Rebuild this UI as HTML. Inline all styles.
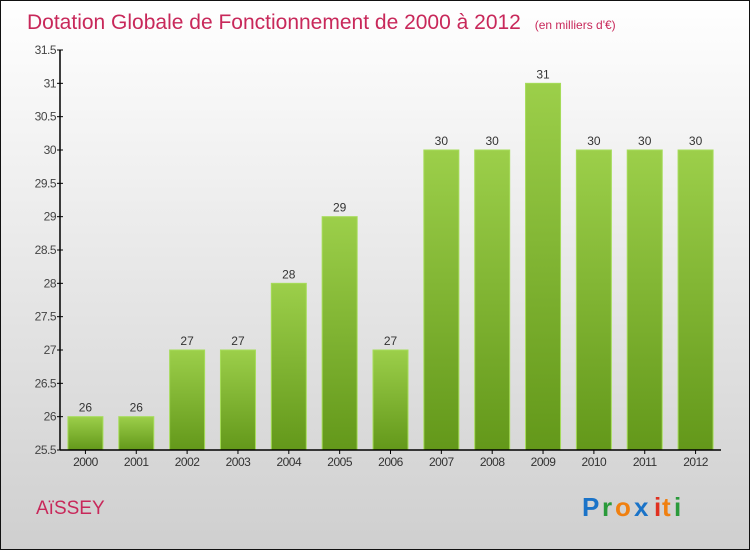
<!DOCTYPE html>
<html><head><meta charset="utf-8"><style>
body{margin:0;width:750px;height:550px;overflow:hidden;font-family:"Liberation Sans",sans-serif}
svg text{font-family:"Liberation Sans",sans-serif}
</style></head><body>
<svg width="750" height="550">
<defs>
<linearGradient id="bg" x1="0" y1="0" x2="0" y2="1"><stop offset="0" stop-color="#ffffff"/><stop offset="1" stop-color="#cfcfcf"/></linearGradient>
<linearGradient id="bar" x1="0" y1="0" x2="0" y2="1"><stop offset="0" stop-color="#9ccf4a"/><stop offset="1" stop-color="#63981a"/></linearGradient>
</defs>
<rect x="0.5" y="0.5" width="749" height="549" fill="url(#bg)" stroke="#111"/>
<text x="27" y="29" font-size="21" fill="#c8285a">Dotation Globale de Fonctionnement de 2000 à 2012 <tspan font-size="12" dx="8">(en milliers d'€)</tspan></text>
<g id="plot"></g>
<text x="36" y="514" font-size="19" fill="#c8285a">AïSSEY</text>
<g font-size="26" font-weight="bold">
<text x="582" y="516" fill="#1a73c8">P</text><text x="602" y="516" fill="#2a9a3a">r</text><text x="615" y="516" fill="#f08010">o</text><text x="634" y="516" fill="#1a73c8">x</text><text x="654" y="516" fill="#e03020">i</text><text x="662" y="516" fill="#f08010">t</text><text x="674" y="516" fill="#2a9a3a">i</text>
</g>
</svg>
<script>
const categories=["2000","2001","2002","2003","2004","2005","2006","2007","2008","2009","2010","2011","2012"];
const values=[26,26,27,27,28,29,27,30,30,31,30,30,30];
const tickLabels=["25.5","26","26.5","27","27.5","28","28.5","29","29.5","30","30.5","31","31.5"];
const ns="http://www.w3.org/2000/svg";
const g=document.getElementById('plot');
const x0=60,x1=721,yB=450,yT=50,vmin=25.5,vmax=31.5;
const slot=(x1-x0)/categories.length;
function y(v){return yB-(v-vmin)/(vmax-vmin)*(yB-yT);}
function xc(i){return x0+slot*(i+0.5);}
function mk(t,a){const e=document.createElementNS(ns,t);for(const k in a)e.setAttribute(k,a[k]);g.appendChild(e);return e;}
tickLabels.forEach(t=>{
 const v=parseFloat(t),yy=y(v);
 const l=mk('line',{x1:x0-3,x2:x0+3,y1:yy,y2:yy,stroke:'#000'});
 
 
 const tx=mk('text',{x:x0-4,y:yy+4,'font-size':12,fill:'#444','text-anchor':'end','letter-spacing':'-0.5'});
 tx.textContent=t;
 
 
});
values.forEach((v,i)=>{
 const bx=xc(i)-17.5,by=y(v);
 const r=mk('rect',{x:bx,y:by,width:35,height:yB-by,fill:'url(#bar)',stroke:'#a6dc5a','stroke-width':1});
 
 
 const t=mk('text',{x:xc(i),y:by-5,'font-size':12,fill:'#333','text-anchor':'middle'});
 t.textContent=v;
 
 
 const tk=mk('line',{x1:xc(i),x2:xc(i),y1:yB,y2:yB+4,stroke:'#000'});
 
 
 const c=mk('text',{x:xc(i),y:yB+16,'font-size':12,fill:'#333','text-anchor':'middle','letter-spacing':'-0.5'});
 c.textContent=categories[i];
 
 
});
const ya=mk('line',{x1:x0,x2:x0,y1:yT,y2:yB,stroke:'#000','stroke-width':1.5});


const xa=mk('line',{x1:x0,x2:x1,y1:yB,y2:yB,stroke:'#000','stroke-width':1.5});


</script>
</body></html>
